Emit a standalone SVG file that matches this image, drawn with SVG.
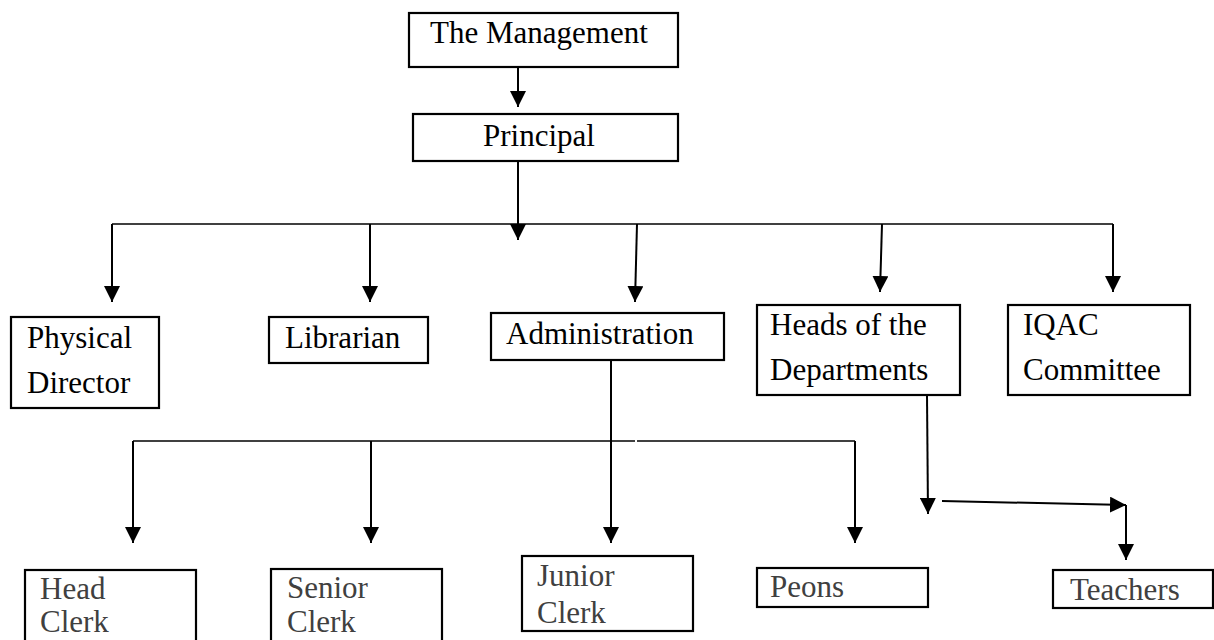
<svg xmlns="http://www.w3.org/2000/svg" width="1214" height="640" viewBox="0 0 1214 640">
<style>
.box{fill:#fff;stroke:#000;stroke-width:2.2}
.t{font-family:"Liberation Serif","Times New Roman",serif;font-size:31px;fill:#000}
.g{fill:#404040}
.c{fill:none;stroke:#000;stroke-width:2}
.h{fill:none;stroke:#000;stroke-width:1.6}
</style>
<defs>
<marker id="ah" markerUnits="userSpaceOnUse" markerWidth="16" markerHeight="16" refX="16" refY="8" orient="auto" viewBox="0 0 16 16">
<path d="M0,0 L16,8 L0,16 z" fill="#000"/>
</marker>
</defs>
<rect width="1214" height="640" fill="#fff"/>
<g id="connectors">
<line class="c" x1="518" y1="67" x2="518" y2="107" marker-end="url(#ah)"/>
<line class="c" x1="518" y1="161" x2="518" y2="240" marker-end="url(#ah)"/>
<polyline class="h" points="112,224 1113,224"/>
<line class="c" x1="112" y1="224" x2="112" y2="302" marker-end="url(#ah)"/>
<line class="c" x1="370" y1="224" x2="370" y2="302" marker-end="url(#ah)"/>
<line class="c" x1="637" y1="224" x2="635" y2="302" marker-end="url(#ah)"/>
<line class="c" x1="882" y1="224" x2="880" y2="292" marker-end="url(#ah)"/>
<line class="c" x1="1113" y1="224" x2="1113" y2="292" marker-end="url(#ah)"/>
<line class="c" x1="611" y1="360" x2="611" y2="543" marker-end="url(#ah)"/>
<line class="h" x1="133" y1="441" x2="635" y2="441"/>
<line class="h" x1="637" y1="441" x2="855" y2="441"/>
<line class="c" x1="133" y1="441" x2="133" y2="543" marker-end="url(#ah)"/>
<line class="c" x1="371" y1="441" x2="371" y2="543" marker-end="url(#ah)"/>
<line class="c" x1="855" y1="441" x2="855" y2="543" marker-end="url(#ah)"/>
<line class="c" x1="927" y1="395" x2="928" y2="514" marker-end="url(#ah)"/>
<line class="c" x1="942" y1="501" x2="1126" y2="505" marker-end="url(#ah)"/>
<line class="c" x1="1126" y1="505" x2="1126" y2="560" marker-end="url(#ah)"/>
</g>
<g id="management">
<rect class="box" x="409" y="13" width="269" height="54"/>
<text class="t" x="430" y="43">The Management</text>
</g>
<g id="principal">
<rect class="box" x="413" y="114" width="265" height="47"/>
<text class="t" x="483" y="146">Principal</text>
</g>
<g id="physical-director">
<rect class="box" x="11" y="317" width="148" height="91"/>
<text class="t" x="27" y="348">Physical</text>
<text class="t" x="27" y="393">Director</text>
</g>
<g id="librarian">
<rect class="box" x="269" y="317" width="159" height="46"/>
<text class="t" x="285" y="348">Librarian</text>
</g>
<g id="administration">
<rect class="box" x="491" y="313" width="233" height="47"/>
<text class="t" x="506" y="344">Administration</text>
</g>
<g id="heads">
<rect class="box" x="757" y="305" width="203" height="90"/>
<text class="t" x="770" y="335">Heads of the</text>
<text class="t" x="770" y="380">Departments</text>
</g>
<g id="iqac">
<rect class="box" x="1008" y="305" width="182" height="90"/>
<text class="t" x="1023" y="335">IQAC</text>
<text class="t" x="1023" y="380">Committee</text>
</g>
<g id="head-clerk">
<rect class="box" x="25" y="570" width="171" height="80"/>
<text class="t g" x="40" y="599">Head</text>
<text class="t g" x="40" y="632">Clerk</text>
</g>
<g id="senior-clerk">
<rect class="box" x="271" y="569" width="171" height="80"/>
<text class="t g" x="287" y="598">Senior</text>
<text class="t g" x="287" y="632">Clerk</text>
</g>
<g id="junior-clerk">
<rect class="box" x="522" y="556" width="171" height="75"/>
<text class="t g" x="537" y="586">Junior</text>
<text class="t g" x="537" y="623">Clerk</text>
</g>
<g id="peons">
<rect class="box" x="757" y="568" width="171" height="39"/>
<text class="t g" x="770" y="597">Peons</text>
</g>
<g id="teachers">
<rect class="box" x="1053" y="570" width="160" height="38"/>
<text class="t g" x="1070" y="600">Teachers</text>
</g>
</svg>
